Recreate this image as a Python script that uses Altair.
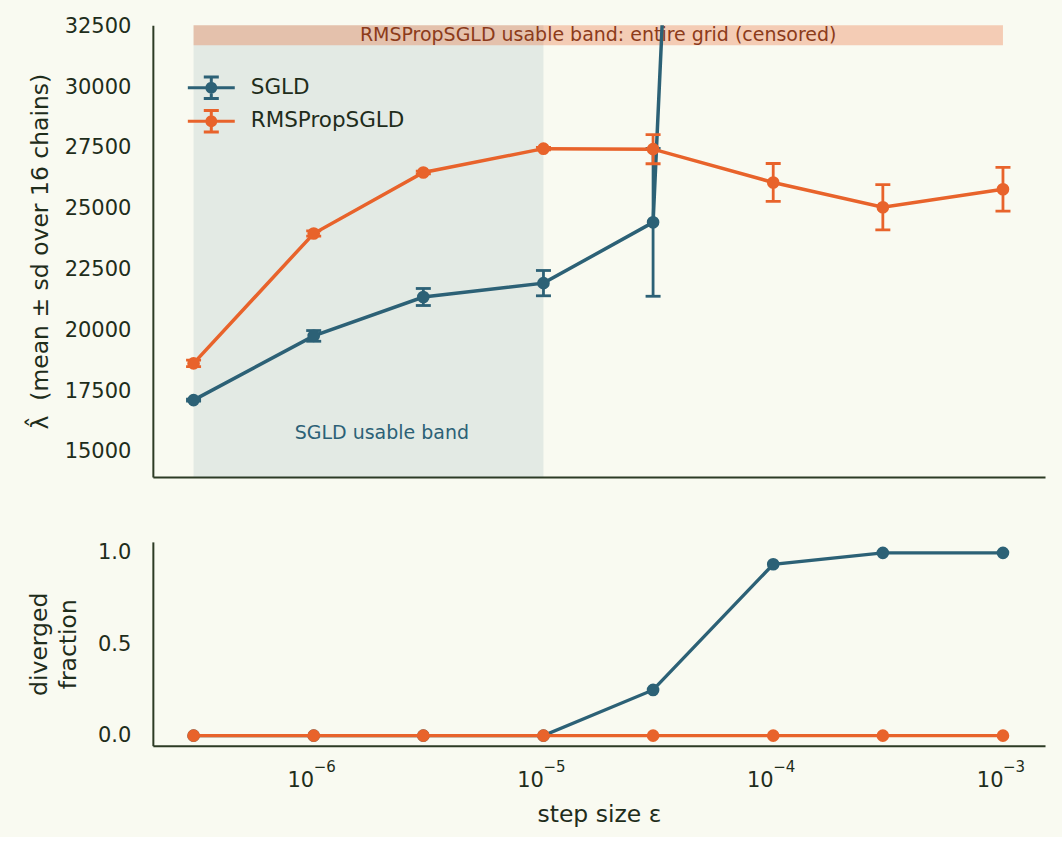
import altair as alt
import pandas as pd

# ---- data ----
eps = [3e-7, 1e-6, 3e-6, 1e-5, 3e-5, 1e-4, 3e-4, 1e-3]
sgld_mean = [17130, 19770, 21370, 21940, 24440, 132000, None, None]
sgld_sd = [40, 220, 350, 520, 3040, None, None, None]
rms_mean = [18640, 23980, 26490, 27470, 27450, 26080, 25060, 25800]
rms_sd = [130, 110, 60, 50, 600, 780, 930, 900]
sgld_div = [0, 0, 0, 0, 0.25, 0.9375, 1.0, 1.0]
rms_div = [0, 0, 0, 0, 0, 0, 0, 0]

methods = ["SGLD", "RMSPropSGLD"]
colors = ["#2c6176", "#e8632b"]

y_ticks = [15000, 17500, 20000, 22500, 25000, 27500, 30000, 32500]
y_domain = [13970, 32540]
x_domain = [1.995e-7, 1.524e-3]
x_ticks = [1e-6, 1e-5, 1e-4, 1e-3]
x_exponents = ["−6", "−5", "−4", "−3"]
div_ticks = [0.0, 0.5, 1.0]
div_domain = [-0.055, 1.06]

# bands / annotations
sgld_band = {"x": [3e-7], "x2": [1e-5]}
rms_band = {"x": [3e-7], "x2": [1e-3], "y": [31720], "y2": [32540]}
ann1 = {"t": ["SGLD usable band"], "x": [1.98e-6], "y": [15780]}
ann2 = {"t": ["RMSPropSGLD usable band: entire grid (censored)"], "x": [1.73e-5], "y": [32130]}

BG = "#f9faf1"
INK = "#1f2d1b"
SPINE = "#2d3b25"
ANN2_COLOR = "#8c3b1a"
FONT = "DejaVu Sans"

# ---- tables ----
rows = []
for m, means, sds in [("SGLD", sgld_mean, sgld_sd), ("RMSPropSGLD", rms_mean, rms_sd)]:
    for e, mu, sd in zip(eps, means, sds):
        if mu is None:
            continue
        rows.append({"method": m, "eps": e, "mean": mu,
                     "lo": None if sd is None else mu - sd,
                     "hi": None if sd is None else mu + sd})
top_df = pd.DataFrame(rows)
err_df = top_df.dropna(subset=["lo"])

div_rows = []
for m, vals in [("SGLD", sgld_div), ("RMSPropSGLD", rms_div)]:
    for e, v in zip(eps, vals):
        div_rows.append({"method": m, "eps": e, "frac": v})
div_df = pd.DataFrame(div_rows)

xscale = alt.Scale(type="log", domain=x_domain, nice=False)
yscale = alt.Scale(domain=y_domain, nice=False, zero=False)
cscale = alt.Scale(domain=methods, range=colors)

top_xaxis = alt.Axis(labels=False, ticks=False, title=None, domain=True, grid=False)
top_yaxis = alt.Axis(values=y_ticks, format="d",
                     title="λ̂\u00a0\u00a0(mean ± sd over 16 chains)",
                     titlePadding=12, labelPadding=22)

# legend glyph: line + error bar with caps + filled dot (concentric rings)
legend_path = ("M-2,0H2M0,-0.92V0.92M-0.64,-0.92H0.64M-0.64,0.92H0.64"
               "M0.38,0A0.38,0.38,0,1,1,-0.38,0A0.38,0.38,0,1,1,0.38,0"
               "M0.2,0A0.2,0.2,0,1,1,-0.2,0A0.2,0.2,0,1,1,0.2,0"
               "M0.05,0A0.05,0.05,0,1,1,-0.05,0A0.05,0.05,0,1,1,0.05,0")

legend = alt.Legend(title=None, orient="none", legendX=45, legendY=49,
                    symbolType=legend_path, symbolSize=552, symbolStrokeWidth=3,
                    symbolOpacity=1,
                    labelFont=FONT, labelFontSize=21.5, labelColor=INK, labelOffset=26,
                    rowPadding=-1.5)


def X(field="eps", axis=top_xaxis):
    return alt.X(f"{field}:Q", scale=xscale, axis=axis)


def Y(field):
    return alt.Y(f"{field}:Q", scale=yscale, axis=top_yaxis)


band1 = alt.Chart(pd.DataFrame(sgld_band)).mark_rect(color=colors[0], opacity=0.1).encode(
    x=X("x"), x2="x2")
band2 = alt.Chart(pd.DataFrame(rms_band)).mark_rect(color=colors[1], opacity=0.3).encode(
    x=X("x"), x2="x2", y=Y("y"), y2="y2")
t1 = alt.Chart(pd.DataFrame(ann1)).mark_text(font=FONT, fontSize=19, align="center",
                                             baseline="middle", color=colors[0]).encode(
    x=X("x"), y=Y("y"), text="t:N")
t2 = alt.Chart(pd.DataFrame(ann2)).mark_text(font=FONT, fontSize=19, align="center",
                                             baseline="middle", color=ANN2_COLOR).encode(
    x=X("x"), y=Y("y"), text="t:N")

col = alt.Color("method:N", scale=cscale, legend=legend)
layers = [band1, band2, t1, t2]
for m in methods:
    e = err_df[err_df.method == m]
    d = top_df[top_df.method == m]
    line = alt.Chart(d).mark_line(strokeWidth=3.5, opacity=1, clip=True).encode(
        x=X(), y=Y("mean"), color=col)
    rule = alt.Chart(e).mark_rule(strokeWidth=2.8, opacity=1, clip=True).encode(
        x=X(), y=Y("lo"), y2="hi", color=col)
    cap_lo = alt.Chart(e).mark_tick(orient="horizontal", size=15, thickness=2.8, opacity=1,
                                    clip=True).encode(x=X(), y=Y("lo"), color=col)
    cap_hi = alt.Chart(e).mark_tick(orient="horizontal", size=15, thickness=2.8, opacity=1,
                                    clip=True).encode(x=X(), y=Y("hi"), color=col)
    pts = alt.Chart(d).mark_point(filled=True, size=160, opacity=1, clip=True).encode(
        x=X(), y=Y("mean"), color=col)
    layers += [line, rule, cap_lo, cap_hi, pts]

top = alt.layer(*layers).properties(width=893, height=452)

bot_xaxis = alt.Axis(values=x_ticks, title="step size ε", labelPadding=41, titlePadding=12,
                     labelExpr="'10'", labelAlign="right", labelBaseline="alphabetic")
bot_yaxis = alt.Axis(values=div_ticks, format=".1f", title=["diverged", "fraction"],
                     titlePadding=17, labelPadding=22)
dscale = alt.Scale(domain=div_domain, nice=False, zero=False)
bx = alt.X("eps:Q", scale=xscale, axis=bot_xaxis)

bl = []
for m in methods:
    d = div_df[div_df.method == m]
    bcol = alt.Color("method:N", scale=cscale, legend=None)
    enc = dict(x=bx, y=alt.Y("frac:Q", scale=dscale, axis=bot_yaxis), color=bcol)
    bl.append(alt.Chart(d).mark_line(strokeWidth=3.3, opacity=1).encode(**enc))
    bl.append(alt.Chart(d).mark_point(filled=True, size=160, opacity=1).encode(**enc))

exp_df = pd.DataFrame({"eps": x_ticks, "e": x_exponents})
exps = alt.Chart(exp_df).mark_text(font=FONT, fontSize=15, align="left", baseline="alphabetic",
                                   color=INK).encode(x=bx, y=alt.value(230), text="e:N")
bl.append(exps)
bottom = alt.layer(*bl).properties(width=893, height=204)

chart = alt.vconcat(top, bottom, spacing=64).properties(
    background=BG, padding={"left": 27, "top": 14, "right": 17, "bottom": 10}
).configure_view(stroke=None).configure_axis(
    grid=False, ticks=False, domainColor=SPINE, domainWidth=2,
    labelFont=FONT, labelFontSize=21, labelColor=INK,
    titleFont=FONT, titleFontSize=23.5, titleColor=INK, titleFontWeight="normal",
    titleLineHeight=29
)

chart.save("out.html", embed_options={"renderer": "svg", "actions": False})
